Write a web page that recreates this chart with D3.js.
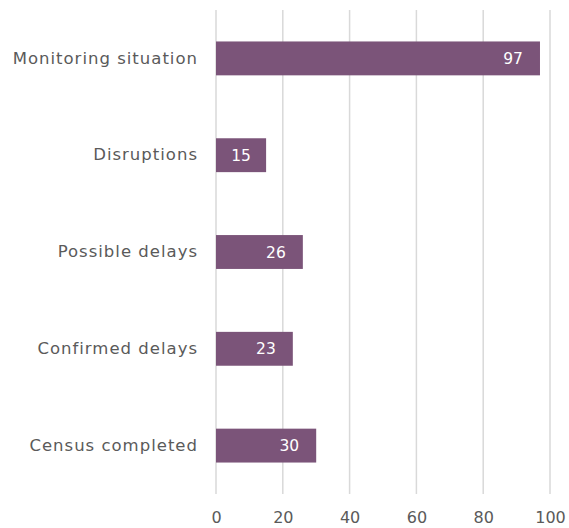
<!DOCTYPE html>
<html>
<head>
<meta charset="utf-8">
<script src="https://cdn.jsdelivr.net/npm/d3@7"></script>
<style>
  body { margin: 0; background: #fff; }
  svg { display: block; }
  .axis text { font-family: "DejaVu Sans", Verdana, sans-serif; font-size: 16px; fill: #5a5a5a; }
  .cat text { font-size: 16.5px; letter-spacing: 1px; }
</style>
</head>
<body>
<script>
let categories = ["Monitoring situation", "Disruptions", "Possible delays", "Confirmed delays", "Census completed"];
let values = [97, 15, 26, 23, 30];
let xTicks = [0, 20, 40, 60, 80, 100];

let w = 569;
let h = 528;
let padLeft = 216;
let padRight = 550;
let padTop = 10;
let padBottom = 494;

let svg = d3.select("body")
  .append("svg")
  .attr("width", w)
  .attr("height", h);

let xScale = d3.scaleLinear()
  .domain([0, 100])
  .range([padLeft, padRight]);

let yScale = d3.scaleBand()
  .domain(categories)
  .range([padTop, padBottom])
  .paddingInner(0.65)
  .paddingOuter(0.325);

// gridlines
svg.append("g")
  .selectAll("line")
  .data(xTicks)
  .enter()
  .append("line")
  .attr("x1", d => xScale(d))
  .attr("x2", d => xScale(d))
  .attr("y1", padTop)
  .attr("y2", padBottom)
  .attr("stroke", "#d9d9d9")
  .attr("stroke-width", 1.5);

// bars
svg.selectAll("rect.bar")
  .data(values)
  .enter()
  .append("rect")
  .attr("class", "bar")
  .attr("x", xScale(0))
  .attr("y", (d, i) => yScale(categories[i]))
  .attr("width", d => xScale(d) - xScale(0))
  .attr("height", yScale.bandwidth())
  .attr("fill", "#7b5479");

// value labels
svg.selectAll("text.val")
  .data(values)
  .enter()
  .append("text")
  .attr("class", "val")
  .attr("text-anchor", "end")
  .attr("font-family", "DejaVu Sans, Verdana, sans-serif")
  .attr("font-size", "15.5px")
  .attr("fill", "#fff")
  .attr("y", (d, i) => yScale(categories[i]) + yScale.bandwidth() / 2)
  .attr("dy", "0.36em")
  .text(d => d)
  .attr("x", function(d) {
    let bw = xScale(d) - xScale(0);
    let tw = this.getComputedTextLength();
    let gap = Math.min(17, (bw - tw) / 2);
    return xScale(d) - gap;
  });

// category axis
let yAxis = d3.axisLeft(yScale).tickSize(0).tickPadding(18);
svg.append("g")
  .attr("class", "axis cat")
  .attr("transform", "translate(" + padLeft + ",0)")
  .call(yAxis)
  .call(g => g.select(".domain").remove());

// value axis
let xAxis = d3.axisBottom(xScale).tickValues(xTicks).tickSize(0).tickPadding(18);
svg.append("g")
  .attr("class", "axis")
  .attr("transform", "translate(0," + padBottom + ")")
  .call(xAxis)
  .call(g => g.select(".domain").remove());
</script>
</body>
</html>
